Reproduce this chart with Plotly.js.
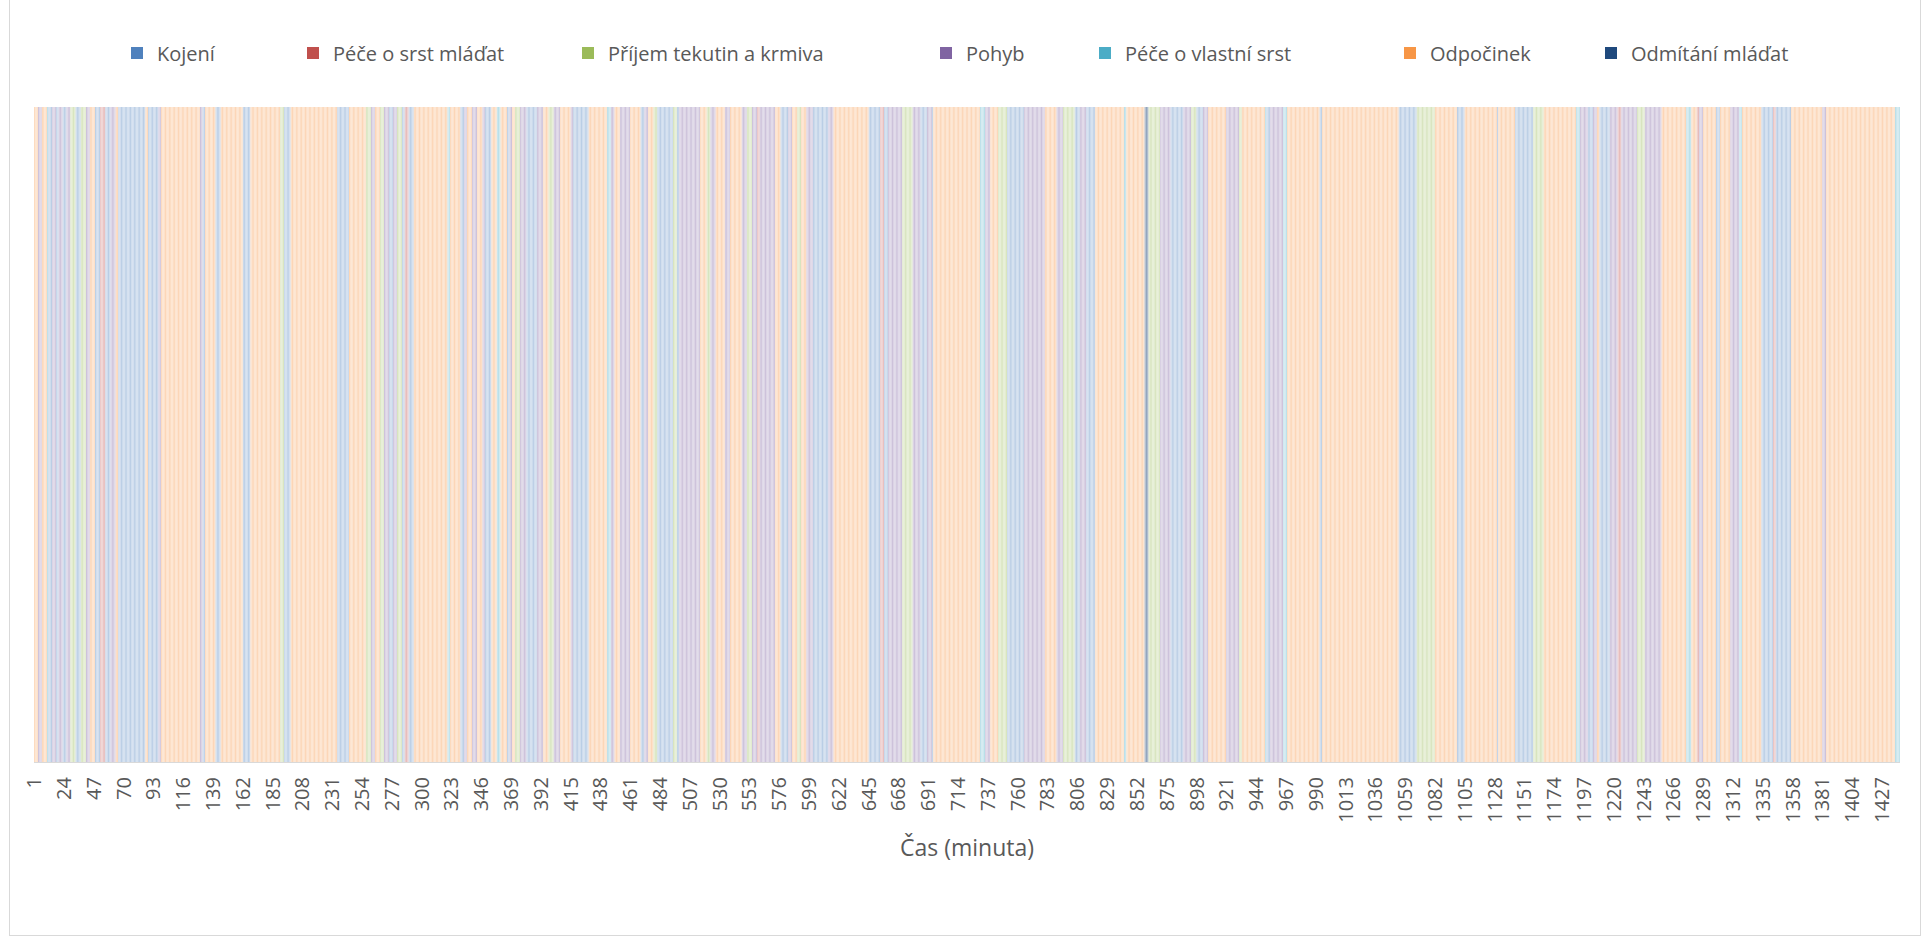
<!DOCTYPE html>
<html>
<head>
<meta charset="utf-8">
<script src="https://cdn.plot.ly/plotly-3.0.1.min.js"></script>
<style>
  html, body { margin: 0; padding: 0; background: #ffffff; }
  #chart { width: 1924px; height: 938px; }
  #frame { position: absolute; left: 9px; top: -1px; width: 1910px; height: 935px; border: 1px solid #d9d9d9; pointer-events: none; }
</style>
</head>
<body>
<div id="chart"></div>
<div id="frame"></div>
<script>
// Behaviour categories (legend order)
const categories = ['Kojení', 'Péče o srst mláďat', 'Příjem tekutin a krmiva', 'Pohyb', 'Péče o vlastní srst', 'Odpočinek', 'Odmítání mláďat'];
const categoryCodes = ['K', 'R', 'G', 'P', 'C', 'O', 'N'];

// Observed behaviour per minute, as runs: a run starts at runStart[i] and lasts until the next run
const runStart = [
  1, 4, 7, 11, 12, 15, 18, 20, 23, 26, 29, 33, 37, 41, 44, 48, 52, 56, 60, 64, 66, 87, 89, 97, 99,
  129, 131, 133, 141, 145, 162, 168, 191, 194, 199, 235, 244, 257,
  261, 264, 268, 271, 275, 278, 281, 285, 287, 290, 294, 320, 322, 330, 333, 335, 339, 343, 347, 349, 354, 358, 361, 366, 368, 370, 372, 376, 381, 389,
  394, 398, 402, 407, 415, 417, 429, 443, 446, 449, 453, 461, 469, 472, 475, 479, 482, 494, 497, 499, 515, 520,
  523, 527, 534, 538, 547, 551, 555, 559, 561, 573, 577, 583, 586, 590, 593, 597, 602, 614, 618, 645,
  654, 657, 660, 671, 679, 685, 690, 694, 695, 731, 735, 739, 745, 752, 765, 781,
  790, 795, 804, 808, 813, 820, 842, 844, 858, 861, 870, 878, 888, 894, 898, 903, 907,
  921, 931, 933, 951, 952, 955, 965, 968, 993, 995,
  1054, 1068, 1082, 1099, 1105, 1130, 1131, 1144, 1158, 1166,
  1191, 1194, 1200, 1204, 1207, 1209, 1217, 1223, 1226, 1238, 1244, 1257, 1276, 1280, 1284, 1286, 1289, 1299, 1302,
  1310, 1317, 1319, 1334, 1343, 1345, 1357, 1381, 1384, 1437
];
const runCode = [
  'O','P','O','C','K','P','K','P','K','P','G','K','G','P','O','K','R','K','P','O','K','O','K','P','O',
  'P','K','O','K','O','K','O','G','K','O','K','O','G',
  'P','O','G','P','K','P','G','K','R','K','O','C','O','K','P','O','P','O','P','K','O','C','O','K','P','O','G','P','K','P',
  'O','G','P','O','P','K','O','C','P','O','P','O','K','P','O','G','K','G','K','P','O','G',
  'P','O','P','O','P','G','P','R','P','O','K','P','O','G','O','P','K','P','O','K',
  'R','K','P','G','P','K','P','K','O','C','P','O','G','K','P','O',
  'P','G','K','P','K','O','C','O','N','G','P','K','P','G','K','P','O',
  'P','G','O','C','K','P','C','O','K','O',
  'K','G','O','K','O','K','O','K','G','O',
  'C','P','K','P','O','K','P','R','P','G','P','O','C','O','R','P','O','K','O',
  'P','C','O','K','R','K','O','P','O','C'
];
const totalMinutes = 1440;

// X-axis tick labels (every 23rd minute)
const tickLabels = [1, 24, 47, 70, 93, 116, 139, 162, 185, 208, 231, 254, 277, 300, 323, 346, 369, 392, 415, 438,
  461, 484, 507, 530, 553, 576, 599, 622, 645, 668, 691, 714, 737, 760, 783, 806, 829, 852, 875, 898,
  921, 944, 967, 990, 1013, 1036, 1059, 1082, 1105, 1128, 1151, 1174, 1197, 1220, 1243, 1266, 1289, 1312,
  1335, 1358, 1381, 1404, 1427];

// Styles
const legendColors = ['#4F81BD', '#C0504D', '#9BBB59', '#8064A2', '#4BACC6', '#F79646', '#1F497D'];
const barColors = ['rgba(185,205,229,0.999)', 'rgba(230,185,184,0.999)', 'rgba(215,228,189,0.999)', 'rgba(204,193,218,0.999)',
  'rgba(183,222,232,0.999)', 'rgba(252,213,181,0.999)', 'rgba(143,162,188,0.999)'];
const legendSymbolX = [139, 315, 590, 948, 1107, 1412, 1613];

const plotLeft = 34, plotRight = 1900, plotTop = 107, plotBottom = 762;
const W = 1924, H = 938;
const pw = plotRight - plotLeft, ph = plotBottom - plotTop;

// expand runs to minutes
const minutesByCat = categories.map(() => []);
for (let i = 0; i < runStart.length; i++) {
  const s = runStart[i];
  const e = (i + 1 < runStart.length) ? runStart[i + 1] - 1 : totalMinutes;
  const ci = categoryCodes.indexOf(runCode[i]);
  for (let m = s; m <= e; m++) minutesByCat[ci].push(m);
}

const traces = [];
categories.forEach((name, i) => {
  traces.push({
    type: 'bar',
    name: name,
    x: minutesByCat[i],
    y: minutesByCat[i].map(() => 1),
    marker: { color: barColors[i], line: { width: 0 } },
    showlegend: false,
    hoverinfo: 'x+name'
  });
});
categories.forEach((name, i) => {
  traces.push({
    type: 'bar',
    name: name,
    x: [1],
    y: [0],
    marker: { color: legendColors[i], line: { width: 0 } },
    showlegend: true,
    legend: i === 0 ? 'legend' : 'legend' + (i + 1),
    hoverinfo: 'skip'
  });
});

const font = { family: 'Open Sans, Liberation Sans, sans-serif', size: 20, color: '#595959' };

const layout = {
  width: W, height: H,
  margin: { l: plotLeft, r: W - plotRight, t: plotTop, b: H - plotBottom, pad: 0 },
  paper_bgcolor: '#ffffff',
  plot_bgcolor: '#ffffff',
  barmode: 'overlay',
  bargap: 0.25,
  font: font,
  xaxis: {
    type: 'linear',
    range: [0.5, totalMinutes + 0.5],
    tickmode: 'array',
    tickvals: tickLabels,
    ticktext: tickLabels.map(String),
    tickangle: -90,
    ticks: '',
    ticklabelstandoff: 6,
    showgrid: false,
    zeroline: false,
    showline: true,
    linecolor: '#d9d9d9',
    linewidth: 1,
    tickfont: font,
    title: { text: 'Čas (minuta)', font: { family: font.family, size: 23, color: '#595959' }, standoff: 18 },
    automargin: false
  },
  yaxis: {
    range: [0, 1],
    showticklabels: false,
    showgrid: false,
    zeroline: false,
    showline: false,
    ticks: ''
  },
  showlegend: true
};

categories.forEach((name, i) => {
  const key = i === 0 ? 'legend' : 'legend' + (i + 1);
  layout[key] = {
    x: (legendSymbolX[i] - 22 - plotLeft) / pw,
    xanchor: 'left',
    y: (plotBottom - 53) / ph,
    yanchor: 'middle',
    orientation: 'h',
    bgcolor: 'rgba(0,0,0,0)',
    borderwidth: 0,
    font: font
  };
});

Plotly.newPlot('chart', traces, layout, { displayModeBar: false, responsive: false });
</script>
</body>
</html>
